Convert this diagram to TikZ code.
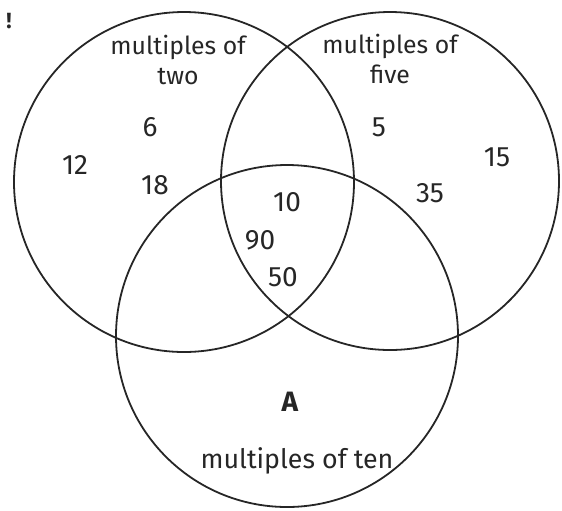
\documentclass[tikz,border=0pt]{standalone}
\usepackage{fontspec}
\setmainfont{Fira Sans}
\usepackage{tikz}
\usetikzlibrary{positioning}

\begin{document}
\begin{tikzpicture}[x=0.5pt,y=-0.5pt,
    ring/.style={line width=0.9pt, black!85},
    num/.style={font=\fontsize{14}{16}\selectfont, text=black!85, inner sep=0pt},
    setname/.style={font=\fontsize{12.4}{15}\selectfont, text=black!85, align=center, inner sep=0pt}]
    \useasboundingbox (0,0) rectangle (562,510);
    % the three sets
    \draw[ring] (184,182) circle[radius=85pt];
    \draw[ring] (390,181) circle[radius=84.5pt];
    \draw[ring] (287,336) circle[radius=85.5pt];
    % set names
    \node[setname] (two) at (178,60) {multiples of\\two};
    \node[setname] (five) at (390,59) {multiples of\\five};
    \node[setname, font=\fontsize{13.4}{15}\selectfont] (ten) at (297,461) {multiples of ten};
    % members
    \node[num] (n6) at (150,127) {6};
    \node[num] (n12) at (75,165) {12};
    \node[num] (n18) at (155,185) {18};
    \node[num] (n5) at (379,127) {5};
    \node[num] (n15) at (497,157) {15};
    \node[num] (n35) at (430,193) {35};
    \node[num] (n10) at (287,202) {10};
    \node[num] (n90) at (260,240) {90};
    \node[num] (n50) at (283,277) {50};
    \node[num, font=\fontsize{14}{16}\selectfont\bfseries] (regA) at (290,402) {A};
    \node[num, font=\fontsize{11}{12}\selectfont\bfseries] (mark) at (9,21) {!};
\end{tikzpicture}
\end{document}
